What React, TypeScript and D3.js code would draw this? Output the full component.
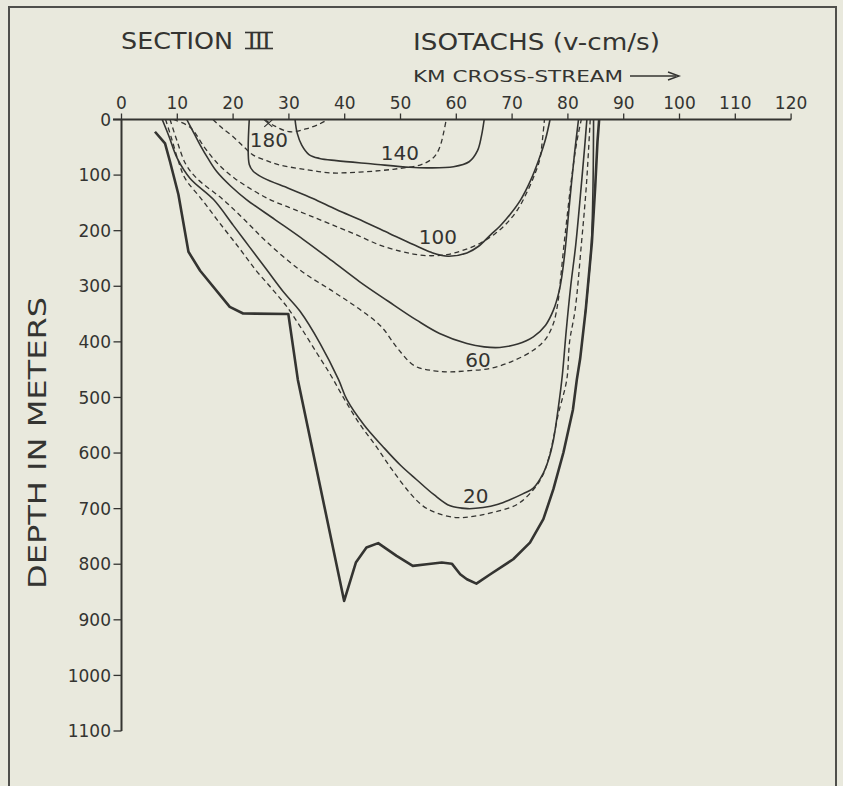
import React from 'react';
import * as d3 from 'd3';

type P = [number, number];

const X_TICKS = [0, 10, 20, 30, 40, 50, 60, 70, 80, 90, 100, 110, 120];
const Y_TICKS = [0, 100, 200, 300, 400, 500, 600, 700, 800, 900, 1000, 1100];

// sea floor profile (km cross-stream, depth m)
const bottomProfile: P[] = [
  [6, 22], [7.8, 43], [8.7, 76], [10.2, 135], [12.0, 238], [14.1, 272], [19.4, 337], [21.8, 349],
  [29.9, 350], [31.6, 468], [39.9, 866], [42, 797], [43.9, 770], [46, 762], [49.3, 785], [52.2, 803],
  [54.7, 800], [57.4, 797], [59.2, 799], [60.7, 818], [61.9, 827], [63.6, 835], [66.1, 818], [70.2, 791],
  [73.2, 761], [75.6, 719], [77.4, 665], [79.2, 599], [80.9, 522], [81.6, 468], [82.2, 430], [83.2, 342],
  [84.3, 221], [84.9, 120], [85.3, 40], [85.6, 0],
];

const solid20: P[] = [
  [7.3, 0], [8.5, 30], [10, 70], [12.3, 106], [16.5, 144], [20, 190], [23, 230], [26, 270], [29, 310],
  [32, 345], [35.6, 403], [38.9, 468], [40.4, 504], [43.5, 550], [46.9, 589], [50, 622], [52.9, 648],
  [56, 675], [58.9, 695], [62, 700], [64.8, 698], [67.5, 692], [69.6, 684], [72, 673], [73.8, 663],
  [75.6, 636], [76.6, 610], [77.4, 577], [78.3, 517], [79, 460], [79.7, 380], [80.5, 300], [81.4, 226],
  [82.3, 130], [83, 50], [83.4, 0],
];
const dashed20: P[] = [
  [7.9, 0], [9, 35], [10.2, 75], [11.4, 106], [14.4, 144], [17.5, 185], [21, 230], [24, 270], [27, 305],
  [29.5, 335], [32, 372], [35, 420], [37.5, 460], [39.7, 499], [42.5, 545], [45.7, 589], [48.5, 630],
  [51.7, 672], [54, 695], [56.5, 708], [60.1, 716], [63, 714], [66, 708], [70.8, 693], [73.8, 666],
  [75.5, 640], [76.8, 600], [78.3, 529], [79.8, 468], [80.3, 400], [81.3, 342], [82.4, 226], [83.3, 120], [84, 0],
];
const solid60: P[] = [
  [11.7, 0], [13, 25], [14.1, 46], [15.5, 70], [17.1, 94], [19.6, 120], [22.4, 144], [27.5, 180],
  [32.6, 216], [37.7, 254], [42.7, 292], [47.8, 327], [52.9, 361], [57, 385], [61.9, 403],
  [65, 409], [67.8, 410], [71, 404], [73.8, 391], [76, 370], [77.4, 343], [78.4, 310], [78.9, 283],
  [79.5, 235], [80.3, 150], [81.2, 60], [81.9, 0],
];
const dashed60: P[] = [
  [8.7, 0], [10, 40], [11.5, 80], [13.5, 106], [18.2, 144], [22, 180], [26, 220], [32, 271], [38, 310],
  [42.5, 340], [46.5, 372], [49.5, 412], [52.5, 443], [56, 452], [58.9, 454], [62, 452], [66, 448],
  [70, 435], [73.8, 415], [76, 395], [77.4, 367], [78.2, 330], [78.6, 295], [79.2, 235], [79.8, 180],
  [80.6, 110], [81.6, 40], [82.4, 0],
];
const solid100: P[] = [
  [22.9, 0], [22.9, 81], [23.6, 93], [25.4, 105], [30, 124], [34.3, 142], [38.5, 162], [43.3, 183],
  [48, 205], [52.3, 225], [55.5, 239], [58.5, 246], [61.9, 240], [64, 228], [66.1, 208], [67.8, 192],
  [69.7, 170], [71.5, 145], [73.3, 110], [74.8, 72], [76, 35], [76.8, 0],
];
const dashed100: P[] = [
  [9.3, 0], [12.3, 14], [15, 52], [17.5, 82], [20.3, 106], [23.5, 127], [26.6, 144], [30, 158],
  [33.5, 172], [37.4, 188], [42, 207], [46.3, 226], [50, 237], [52.3, 242], [55, 245], [58.3, 243],
  [61, 236], [64.2, 223], [67, 205], [69, 187], [71, 162], [72.8, 128], [74.2, 95], [75, 70],
  [75.4, 40], [75.8, 0],
];
const solid140: P[] = [
  [31.1, 0], [31.5, 25], [32.3, 46], [33.6, 63], [35.5, 70], [38.5, 74], [45, 80], [51.7, 86],
  [55, 87], [59.5, 85], [62.3, 76], [63.8, 56], [64.5, 30], [65, 0],
];
const dashed140: P[] = [
  [16.4, 0], [18, 15], [20, 31], [22, 50], [23.6, 64], [26, 74], [28.4, 82], [33, 90], [37.4, 96],
  [42, 95], [46.3, 92], [49.9, 88], [53.5, 82], [55.5, 72], [56.5, 61], [57.2, 45], [57.7, 25], [58.2, 0],
];
const dashed180: P[] = [[25.7, 0], [27.5, 12], [30.2, 22], [33, 17], [35.5, 8], [37, 0]];
const solidEdge: P[] = [[84.6, 0], [84.5, 120], [84.2, 226], [83.6, 300], [83.1, 350]];

const contourLabels: { text: string; km: number; m: number }[] = [
  { text: '180', km: 26.4, m: 49.5 },
  { text: '140', km: 49.9, m: 73 },
  { text: '100', km: 56.7, m: 224.5 },
  { text: '60', km: 63.9, m: 444.7 },
  { text: '20', km: 63.5, m: 690.4 },
];
const maxMark: P = [26.3, 7];

const INK = '#343431';
const FONT = "'DejaVu Sans', sans-serif";

export default function App() {
  const W = 843;
  const H = 786;
  const x = d3.scaleLinear().domain([0, 120]).range([121.5, 791.1]);
  const y = d3.scaleLinear().domain([0, 1100]).range([119.5, 731]);

  const smooth = d3
    .line<P>()
    .x((d) => x(d[0]))
    .y((d) => y(d[1]))
    .curve(d3.curveCatmullRom.alpha(0.5));
  const straight = d3
    .line<P>()
    .x((d) => x(d[0]))
    .y((d) => y(d[1]))
    .curve(d3.curveLinear);

  const solids = [solid20, solid60, solid100, solid140, solidEdge];
  const dashes = [dashed20, dashed60, dashed100, dashed140, dashed180];

  const mx = x(maxMark[0]);
  const my = y(maxMark[1]);

  return (
    <svg
      width={W}
      height={H}
      viewBox={`0 0 ${W} ${H}`}
      style={{ position: 'absolute', left: 0, top: 0, display: 'block' }}
      fontFamily={FONT}
    >
      <rect x={0} y={0} width={W} height={H} fill="#e9e9dd" />
      {/* frame */}
      <path d={`M9,${H} L9,7 L836,7 L836,${H}`} fill="none" stroke={INK} strokeWidth={2} opacity={0.85} />

      {/* titles */}
      <text x={121} y={49} fontSize={23} fill={INK}>
        <tspan textLength={112} lengthAdjust="spacingAndGlyphs">SECTION</tspan>
        <tspan x={248} textLength={22} lengthAdjust="spacingAndGlyphs">III</tspan>
      </text>
      <line x1={245} x2={273} y1={32.5} y2={32.5} stroke={INK} strokeWidth={1.6} />
      <line x1={245} x2={273} y1={48.5} y2={48.5} stroke={INK} strokeWidth={1.6} />
      <text x={413} y={50} fontSize={23} fill={INK} textLength={247} lengthAdjust="spacingAndGlyphs">
        ISOTACHS (v-cm/s)
      </text>
      <text x={413} y={82} fontSize={16} fill={INK} textLength={210} lengthAdjust="spacingAndGlyphs">
        KM CROSS-STREAM
      </text>
      <line x1={630} x2={676} y1={76} y2={76} stroke={INK} strokeWidth={1.4} />
      <path d="M668,72 L679,76 L668,80" fill="none" stroke={INK} strokeWidth={1.4} />

      {/* y-axis title */}
      <text
        transform={`translate(46,443) rotate(-90)`}
        textAnchor="middle"
        fontSize={24}
        fill={INK}
        textLength={292}
        lengthAdjust="spacingAndGlyphs"
      >
        DEPTH IN METERS
      </text>

      {/* x axis */}
      <line x1={113} x2={x(120)} y1={y(0)} y2={y(0)} stroke={INK} strokeWidth={2} />
      {X_TICKS.map((t) => (
        <g key={'xt' + t}>
          <line x1={x(t)} x2={x(t)} y1={y(0)} y2={y(0) - 6} stroke={INK} strokeWidth={1.3} />
          <text x={x(t)} y={109} textAnchor="middle" fontSize={17} fill={INK}>
            {t}
          </text>
        </g>
      ))}

      {/* y axis */}
      <line x1={x(0)} x2={x(0)} y1={y(0)} y2={y(1100)} stroke={INK} strokeWidth={2} />
      {Y_TICKS.map((t) => (
        <g key={'yt' + t}>
          <line x1={x(0) - 8} x2={x(0)} y1={y(t)} y2={y(t)} stroke={INK} strokeWidth={1.3} />
          <text x={111} y={y(t)} dy="0.36em" textAnchor="end" fontSize={17} fill={INK}>
            {t}
          </text>
        </g>
      ))}

      {/* isotachs */}
      {dashes.map((d, i) => (
        <path key={'d' + i} d={smooth(d) || ''} fill="none" stroke={INK} strokeWidth={1.3} strokeDasharray="5,3.5" />
      ))}
      {solids.map((d, i) => (
        <path key={'s' + i} d={smooth(d) || ''} fill="none" stroke={INK} strokeWidth={1.6} />
      ))}
      <path d={straight(bottomProfile) || ''} fill="none" stroke={INK} strokeWidth={2.6} strokeLinejoin="round" />

      {/* max mark */}
      <path d={`M${mx - 4},${my - 3.5} L${mx + 4},${my + 3.5} M${mx - 4},${my + 3.5} L${mx + 4},${my - 3.5}`} stroke={INK} strokeWidth={1.2} />

      {contourLabels.map((l) => (
        <text key={l.text} x={x(l.km)} y={y(l.m)} textAnchor="middle" fontSize={20} fill={INK}>
          {l.text}
        </text>
      ))}
    </svg>
  );
}
